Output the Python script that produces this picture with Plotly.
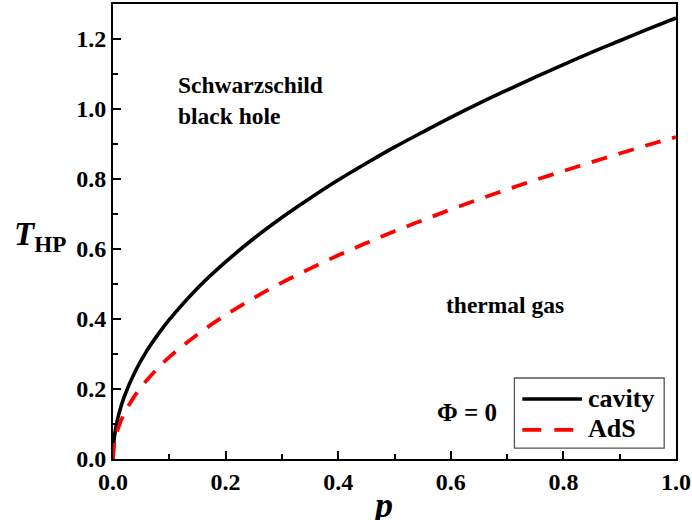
import plotly.graph_objects as go

p_vals = [0, 0.002, 0.005, 0.01, 0.02, 0.04, 0.06, 0.08, 0.1, 0.15, 0.2, 0.25, 0.3,
          0.35, 0.4, 0.45, 0.5, 0.55, 0.6, 0.65, 0.7, 0.75, 0.8, 0.85, 0.9, 0.95, 1.0]
t_cavity = [0, 0.056, 0.089, 0.126, 0.178, 0.252, 0.309, 0.356, 0.398, 0.488, 0.563,
            0.630, 0.690, 0.745, 0.797, 0.845, 0.891, 0.934, 0.976, 1.016, 1.054,
            1.091, 1.127, 1.162, 1.195, 1.228, 1.26]
t_ads = [0, 0.041, 0.065, 0.092, 0.130, 0.184, 0.225, 0.260, 0.291, 0.356, 0.411,
         0.460, 0.504, 0.544, 0.582, 0.617, 0.651, 0.682, 0.713, 0.742, 0.770,
         0.797, 0.823, 0.848, 0.873, 0.897, 0.92]

x_ticks = [0.0, 0.2, 0.4, 0.6, 0.8, 1.0]
y_ticks = [0.0, 0.2, 0.4, 0.6, 0.8, 1.0, 1.2]
series_names = ["cavity", "AdS"]

FONT = "Liberation Serif"
RED = "#ff0000"
ADS_DASH = "16px,12px"

fig = go.Figure()
fig.add_trace(go.Scatter(x=p_vals, y=t_cavity, mode="lines", name=series_names[0],
                         line=dict(color="black", width=3.6, shape="spline")))
fig.add_trace(go.Scatter(x=p_vals, y=t_ads, mode="lines", name=series_names[1],
                         line=dict(color=RED, width=3.8, dash=ADS_DASH, shape="spline")))

axis_common = dict(
    showgrid=False, zeroline=False, showline=True, linecolor="black", linewidth=2,
    mirror=True, ticks="inside", ticklen=8, tickwidth=1.5, tickcolor="black",
    tickfont=dict(family=FONT, size=24, color="black"), automargin=False,
    minor=dict(ticks="inside", ticklen=5, tickwidth=1.5, tickcolor="black"),
)

fig.update_xaxes(range=[0, 1.0], tickvals=x_ticks,
                 ticktext=[f"<b>{v:.1f}</b>" for v in x_ticks],
                 minor_dtick=0.1, **axis_common)
fig.update_yaxes(range=[0, 1.3], tickvals=y_ticks,
                 ticktext=[f"<b>{v:.1f}</b>" for v in y_ticks],
                 minor_dtick=0.1, **axis_common)

# axis titles
fig.add_annotation(x=0.478, y=-0.052, xref="paper", yref="paper",
                   text="<b><i>p</i></b>", showarrow=False, yanchor="top",
                   font=dict(family=FONT, size=36, color="black"))
fig.add_annotation(x=-0.18, y=0.49, xref="paper", yref="paper",
                   text="<b><i>T</i><sub>HP</sub></b>",
                   showarrow=False, xanchor="left", yanchor="middle",
                   font=dict(family=FONT, size=33, color="black"))

# region labels
fig.add_annotation(x=0.112, y=1.025, xref="x", yref="y", xanchor="left", yanchor="middle",
                   text="<b>Schwarzschild<br>black hole</b>", showarrow=False, align="left",
                   font=dict(family=FONT, size=23.5, color="black"))
fig.add_annotation(x=0.588, y=0.44, xref="x", yref="y", xanchor="left", yanchor="middle",
                   text="<b>thermal gas</b>", showarrow=False,
                   font=dict(family=FONT, size=23.5, color="black"))
fig.add_annotation(x=0.572, y=0.134, xref="x", yref="y", xanchor="left", yanchor="middle",
                   text="<b>Φ = 0</b>", showarrow=False,
                   font=dict(family=FONT, size=25, color="black"))

# custom legend box (fixed in paper coordinates)
fig.add_shape(type="rect", xref="paper", yref="paper", x0=0.713, x1=0.979, y0=0.024, y1=0.178,
              line=dict(color="#555", width=1.3), fillcolor="white", layer="above")
fig.add_shape(type="line", xref="paper", yref="paper", x0=0.727, x1=0.833, y0=0.132, y1=0.132,
              line=dict(color="black", width=3.6), layer="above")
fig.add_shape(type="line", xref="paper", yref="paper", x0=0.727, x1=0.833, y0=0.064, y1=0.064,
              line=dict(color=RED, width=3.8, dash="19px,13px"), layer="above")
fig.add_annotation(x=0.840, y=0.134, xref="paper", yref="paper", xanchor="left", yanchor="middle",
                   text=f"<b>{series_names[0]}</b>", showarrow=False,
                   font=dict(family=FONT, size=26, color="black"))
fig.add_annotation(x=0.840, y=0.066, xref="paper", yref="paper", xanchor="left", yanchor="middle",
                   text=f"<b>{series_names[1]}</b>", showarrow=False,
                   font=dict(family=FONT, size=26, color="black"))

fig.update_layout(
    width=692, height=520,
    margin=dict(l=113, r=16, t=4, b=61, autoexpand=False),
    plot_bgcolor="white", paper_bgcolor="white",
    showlegend=False,
)

fig.write_html("out.html", config={"displayModeBar": False},
               post_script="document.body.style.margin='0';document.body.style.overflow='hidden';")
